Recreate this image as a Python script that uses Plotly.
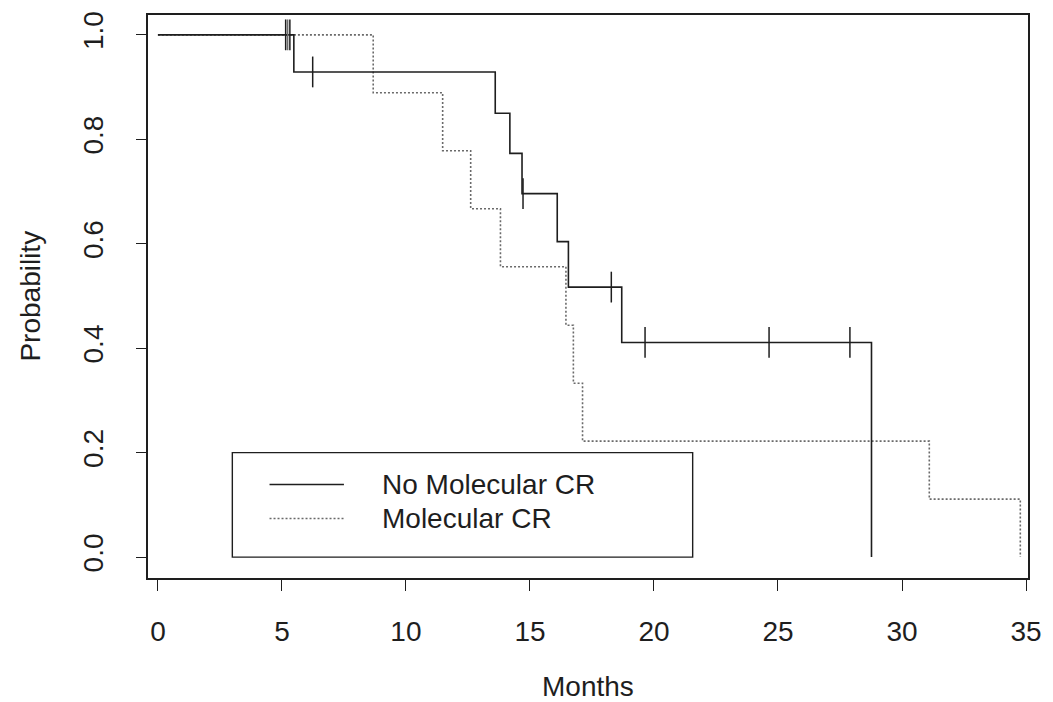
import numpy as np
import plotly.graph_objects as go

# Kaplan-Meier step estimates (months, survival probability)
no_mcr_time = [0, 5.48, 13.6, 14.19, 14.68, 16.1, 16.55, 18.7, 28.77]
no_mcr_surv = [1.0, 0.929, 0.850, 0.773, 0.696, 0.604, 0.517, 0.411, 0.0]
no_mcr_censor = [5.15, 5.32, 6.24, 14.72, 18.28, 19.64, 24.64, 27.9]

mcr_time = [0, 8.68, 11.48, 12.61, 13.81, 16.45, 16.75, 17.12, 31.1, 34.77]
mcr_surv = [1.0, 0.889, 0.778, 0.667, 0.556, 0.444, 0.333, 0.222, 0.111, 0.0]
mcr_censor = [5.23]

x_ticks = [0, 5, 10, 15, 20, 25, 30, 35]
y_ticks = [0.0, 0.2, 0.4, 0.6, 0.8, 1.0]
y_tick_text = ["0.0", "0.2", "0.4", "0.6", "0.8", "1.0"]

legend_labels = ["No Molecular CR", "Molecular CR"]

FONT = "Liberation Sans, Arial, Helvetica, sans-serif"
FS = 28
INK = "#1e1e1e"
GREY = "#6a6a6a"


def step_value(times, surv, t):
    idx = np.searchsorted(np.asarray(times), t, side="right") - 1
    return surv[max(idx, 0)]


fig = go.Figure()

fig.add_trace(go.Scatter(
    x=mcr_time, y=mcr_surv, mode="lines", line_shape="hv",
    line=dict(color=GREY, width=1.6, dash="2px,2px"),
    name=legend_labels[1], showlegend=False, hoverinfo="skip",
))
fig.add_trace(go.Scatter(
    x=no_mcr_time, y=no_mcr_surv, mode="lines", line_shape="hv",
    line=dict(color=INK, width=1.6),
    name=legend_labels[0], showlegend=False, hoverinfo="skip",
))

# censoring marks
fig.add_trace(go.Scatter(
    x=mcr_censor, y=[step_value(mcr_time, mcr_surv, t) for t in mcr_censor],
    mode="markers", showlegend=False, hoverinfo="skip",
    marker=dict(symbol="line-ns", size=22, line=dict(color=GREY, width=1.5)),
))
fig.add_trace(go.Scatter(
    x=no_mcr_censor, y=[step_value(no_mcr_time, no_mcr_surv, t) for t in no_mcr_censor],
    mode="markers", showlegend=False, hoverinfo="skip",
    marker=dict(symbol="line-ns", size=22, line=dict(color=INK, width=1.5)),
))

# legend box in data coordinates
fig.add_shape(type="rect", x0=3.0, x1=21.56, y0=0.0, y1=0.2,
              line=dict(color=INK, width=1.4), fillcolor="rgba(0,0,0,0)", layer="above")
fig.add_shape(type="line", x0=4.5, x1=7.5, y0=0.139, y1=0.139,
              line=dict(color=INK, width=1.4))
fig.add_shape(type="line", x0=4.5, x1=7.5, y0=0.074, y1=0.074,
              line=dict(color=GREY, width=1.4, dash="2px,2px"))
fig.add_annotation(x=8.95, y=0.139, text=legend_labels[0], showarrow=False,
                   xanchor="left", yanchor="middle",
                   font=dict(family=FONT, size=FS, color=INK))
fig.add_annotation(x=8.95, y=0.074, text=legend_labels[1], showarrow=False,
                   xanchor="left", yanchor="middle",
                   font=dict(family=FONT, size=FS, color=INK))

# axis titles
fig.add_annotation(xref="paper", yref="paper", x=0.5, y=-0.192, text="Months",
                   xanchor="center", yanchor="middle", showarrow=False,
                   font=dict(family=FONT, size=FS, color=INK))
fig.add_annotation(xref="paper", yref="paper", x=-0.134, y=0.5, text="Probability",
                   xanchor="center", yanchor="middle", textangle=-90, showarrow=False,
                   font=dict(family=FONT, size=FS, color=INK))

fig.update_layout(
    width=1053, height=702,
    margin=dict(l=148, r=18, t=11, b=124),
    plot_bgcolor="white", paper_bgcolor="white",
    font=dict(family=FONT, size=FS, color=INK),
    xaxis=dict(
        range=[-0.4, 35.08], tickmode="array", tickvals=x_ticks,
        ticks="outside", ticklen=11, tickwidth=1.4, tickcolor=INK,
        showline=True, linecolor=INK, linewidth=1.6, mirror=True,
        showgrid=False, zeroline=False, ticklabelstandoff=17,
    ),
    yaxis=dict(
        range=[-0.04, 1.038], tickmode="array", tickvals=y_ticks, ticktext=y_tick_text,
        ticks="outside", ticklen=10, tickwidth=1.4, tickcolor=INK, tickangle=-90,
        showline=True, linecolor=INK, linewidth=1.6, mirror=True,
        showgrid=False, zeroline=False, ticklabelstandoff=22,
    ),
)

fig.write_html("out.html")
